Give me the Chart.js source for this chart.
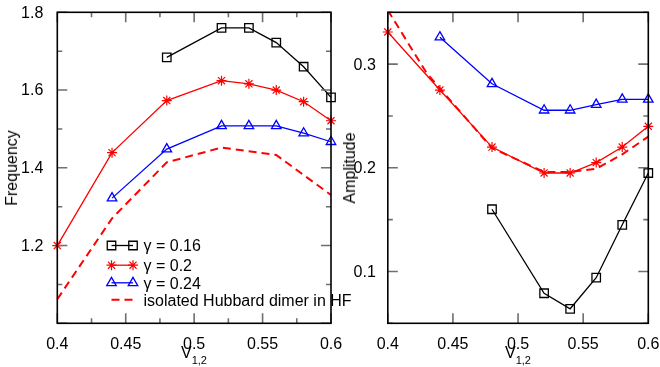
<!DOCTYPE html>
<html><head><meta charset="utf-8">
<script src="https://cdn.jsdelivr.net/npm/chart.js@4/dist/chart.umd.min.js"></script>
<style>
html,body{margin:0;padding:0;background:#fff}
body{width:660px;height:367px;overflow:hidden;position:relative;font-family:"Liberation Sans",Arial,sans-serif}
canvas{position:absolute;top:0}
#c1{left:0}
#c2{left:330px}
.yt{position:absolute;font-size:16px;line-height:16px;color:#000;white-space:nowrap;transform:translate(-50%,-50%) rotate(-90deg)}
.xt{position:absolute;font-size:16px;line-height:16px;color:#000;white-space:nowrap;transform:translateX(-50%)}
.xt span{font-size:11px;position:relative;top:6px}
</style></head><body>
<canvas id="c1" width="360" height="367" style="width:360px;height:367px"></canvas>
<canvas id="c2" width="330" height="367" style="width:330px;height:367px"></canvas>
<div class="yt" style="left:12px;top:168px">Frequency</div>
<div class="yt" style="left:350px;top:168px">Amplitude</div>
<div class="xt" style="left:194px;top:344.6px">V<span>1,2</span></div>
<div class="xt" style="left:518px;top:344.6px">V<span>1,2</span></div>
<script>
// ---------- data ----------
const seriesLabels = ["γ = 0.16", "γ = 0.2", "γ = 0.24", "isolated Hubbard dimer in HF"];

// Frequency panel
const freqX16 = [0.48, 0.52, 0.54, 0.56, 0.58, 0.6];
const freqY16 = [1.684, 1.760, 1.760, 1.722, 1.660, 1.581];
const freqX20 = [0.4, 0.44, 0.48, 0.52, 0.54, 0.56, 0.58, 0.6];
const freqY20 = [1.200, 1.439, 1.573, 1.624, 1.616, 1.600, 1.570, 1.521];
const freqX24 = [0.44, 0.48, 0.52, 0.54, 0.56, 0.58, 0.6];
const freqY24 = [1.322, 1.448, 1.508, 1.508, 1.508, 1.489, 1.467];
const freqXHF = [0.4, 0.44, 0.48, 0.52, 0.56, 0.6];
const freqYHF = [1.062, 1.270, 1.414, 1.452, 1.433, 1.330];

// Amplitude panel
const ampX16 = [0.48, 0.52, 0.54, 0.56, 0.58, 0.6];
const ampY16 = [0.160, 0.079, 0.064, 0.094, 0.145, 0.195];
const ampX20 = [0.4, 0.44, 0.48, 0.52, 0.54, 0.56, 0.58, 0.6];
const ampY20 = [0.331, 0.275, 0.220, 0.195, 0.195, 0.205, 0.220, 0.240];
const ampX24 = [0.44, 0.48, 0.52, 0.54, 0.56, 0.58, 0.6];
const ampY24 = [0.326, 0.281, 0.2555, 0.2555, 0.261, 0.266, 0.266];
const ampXHF = [0.4, 0.43, 0.48, 0.52, 0.54, 0.56, 0.58, 0.6];
const ampYHF = [0.352, 0.291, 0.219, 0.196, 0.196, 0.199, 0.213, 0.230];

// ticks
const xTickValues = [0.4, 0.45, 0.5, 0.55, 0.6];
const xTickLabels = ["0.4", "0.45", "0.5", "0.55", "0.6"];
const freqXMinor = [0.425, 0.475, 0.525, 0.575];
const ampXMinor = [];
const freqYTickValues = [1.2, 1.4, 1.6, 1.8];
const freqYTickLabels = ["1.2", "1.4", "1.6", "1.8"];
const freqYMajorMarks = [1.0, 1.2, 1.4, 1.6, 1.8];
const freqYMinor = [1.1, 1.3, 1.5, 1.7];
const ampYTickValues = [0.1, 0.2, 0.3];
const ampYTickLabels = ["0.1", "0.2", "0.3"];
const ampYMinor = [0.05, 0.15, 0.25, 0.35];

// ---------- helpers ----------
const FONT = '"Liberation Sans", Arial, sans-serif';
const pts = (xs, ys) => xs.map((x, i) => ({x: x, y: ys[i]}));
const CLIP = {left: 10, right: 10, top: 0, bottom: 10};

function seriesSets(x16, y16, x20, y20, x24, y24, xhf, yhf) {
  return [
    {label: seriesLabels[0], data: pts(x16, y16), borderColor: '#000', backgroundColor: 'rgba(0,0,0,0)',
     borderWidth: 1.3, pointStyle: 'rect', pointRadius: 6, pointBorderWidth: 1.3, pointBorderColor: '#000', clip: CLIP},
    {label: seriesLabels[1], data: pts(x20, y20), borderColor: '#ff0000', backgroundColor: 'rgba(0,0,0,0)',
     borderWidth: 1.3, pointStyle: 'star', pointRadius: 5, pointBorderWidth: 1.2, pointBorderColor: '#ff0000', clip: CLIP},
    {label: seriesLabels[2], data: pts(x24, y24), borderColor: '#0000ff', backgroundColor: 'rgba(0,0,0,0)',
     borderWidth: 1.3, pointStyle: 'triangle', pointRadius: 5.5, pointBorderWidth: 1.3, pointBorderColor: '#0000ff', clip: CLIP},
    {label: seriesLabels[3], data: pts(xhf, yhf), borderColor: '#ff0000', backgroundColor: 'rgba(0,0,0,0)',
     borderWidth: 2, borderDash: [8, 5], pointRadius: 0, clip: CLIP}
  ];
}

const framePlugin = {
  id: 'frame',
  afterDatasetsDraw(chart, args, o) {
    const {ctx, chartArea: a, scales: {x, y}} = chart;
    ctx.save();
    ctx.strokeStyle = '#6f6f6f';
    ctx.lineWidth = 1.6;
    const vt = (vals, len) => vals.forEach(v => {
      const p = x.getPixelForValue(v);
      ctx.beginPath(); ctx.moveTo(p, a.bottom); ctx.lineTo(p, a.bottom - len);
      ctx.moveTo(p, a.top); ctx.lineTo(p, a.top + len); ctx.stroke();
    });
    const ht = (vals, len) => vals.forEach(v => {
      const p = y.getPixelForValue(v);
      ctx.beginPath(); ctx.moveTo(a.left, p); ctx.lineTo(a.left + len, p);
      ctx.moveTo(a.right, p); ctx.lineTo(a.right - len, p); ctx.stroke();
    });
    vt(o.xMajor, 10); vt(o.xMinor, 5);
    ht(o.yMajor, 10); ht(o.yMinor, 5);
    ctx.strokeStyle = '#000';
    ctx.lineWidth = 1.6;
    ctx.strokeRect(a.left, a.top, a.right - a.left, a.bottom - a.top);
    ctx.restore();
  }
};

const legendPlugin = {
  id: 'innerLegend',
  afterDraw(chart, args, o) {
    if (!o.show) return;
    const ctx = chart.ctx;
    const rows = [245.5, 265.2, 282.8, 299.8];
    const x0 = 111.5, x1 = 133, tx = 143.5;
    ctx.save();
    chart.data.datasets.forEach((ds, i) => {
      const yy = rows[i];
      ctx.strokeStyle = ds.borderColor;
      ctx.lineWidth = ds.borderWidth;
      ctx.setLineDash(ds.borderDash || []);
      ctx.beginPath(); ctx.moveTo(x0, yy); ctx.lineTo(x1, yy); ctx.stroke();
      ctx.setLineDash([]);
      if (ds.pointRadius > 0) {
        ctx.fillStyle = 'rgba(0,0,0,0)';
        ctx.lineWidth = ds.pointBorderWidth;
        const po = {pointStyle: ds.pointStyle, radius: ds.pointRadius, rotation: 0, borderWidth: ds.pointBorderWidth};
        Chart.helpers.drawPoint(ctx, po, x0, yy);
        Chart.helpers.drawPoint(ctx, po, x1, yy);
      }
      ctx.fillStyle = '#000';
      ctx.font = '16px ' + FONT;
      ctx.textBaseline = 'alphabetic';
      ctx.textAlign = 'left';
      ctx.fillText(ds.label, tx, yy + 5.7);
    });
    ctx.restore();
  }
};

function makeChart(id, datasets, opt) {
  return new Chart(document.getElementById(id), {
    type: 'line',
    data: {datasets: datasets},
    plugins: [framePlugin, legendPlugin],
    options: {
      responsive: false,
      animation: false,
      devicePixelRatio: 1,
      layout: {padding: {top: 12.3, right: opt.padRight, left: 0, bottom: 0}},
      plugins: {
        legend: {display: false},
        tooltip: {enabled: false},
        frame: {xMajor: xTickValues, xMinor: opt.xMinor, yMajor: opt.yMajor, yMinor: opt.yMinor},
        innerLegend: {show: opt.legend}
      },
      scales: {
        x: {
          type: 'linear', min: 0.4, max: 0.6,
          afterBuildTicks: s => { s.ticks = xTickValues.map(v => ({value: v})); },
          afterFit: s => { s.height = 367 - 323.3; s.paddingLeft = 0; s.paddingRight = 0; },
          ticks: {callback: (v, i) => xTickLabels[i], font: {size: 16, family: FONT}, color: '#000', padding: 4, maxRotation: 0, autoSkip: false},
          grid: {display: false}, border: {display: false}
        },
        y: {
          type: 'linear', min: opt.yMin, max: opt.yMax,
          afterBuildTicks: s => { s.ticks = opt.yTicks.map(v => ({value: v})); },
          afterFit: s => { s.width = opt.yWidth; s.paddingTop = 0; s.paddingBottom = 0; },
          ticks: {callback: (v, i) => opt.yLabels[i], font: {size: 16, family: FONT}, color: '#000', padding: opt.yPad, labelOffset: 1, autoSkip: false},
          grid: {display: false}, border: {display: false}
        }
      }
    }
  });
}

makeChart('c1', seriesSets(freqX16, freqY16, freqX20, freqY20, freqX24, freqY24, freqXHF, freqYHF), {
  padRight: 360 - 331, yWidth: 57.3, yPad: 6, yMin: 1.0, yMax: 1.8,
  yTicks: freqYTickValues, yLabels: freqYTickLabels, yMajor: freqYMajorMarks, yMinor: freqYMinor,
  xMinor: freqXMinor, legend: true
});
makeChart('c2', seriesSets(ampX16, ampY16, ampX20, ampY20, ampX24, ampY24, ampXHF, ampYHF), {
  padRight: 330 - 318.3, yWidth: 57.8, yPad: 4, yMin: 0.05, yMax: 0.35,
  yTicks: ampYTickValues, yLabels: ampYTickLabels, yMajor: ampYTickValues, yMinor: ampYMinor,
  xMinor: ampXMinor, legend: false
});
</script>
</body></html>
